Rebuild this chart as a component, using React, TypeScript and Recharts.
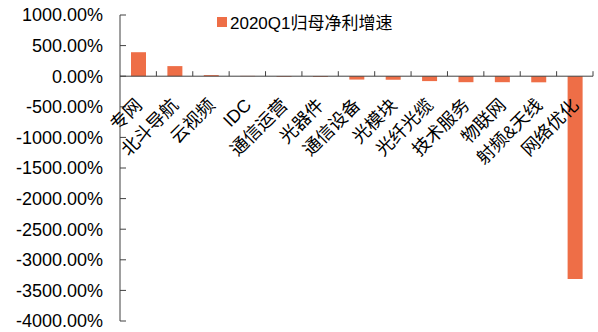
import { Bar, BarChart, ReferenceLine, XAxis, YAxis } from 'recharts'

const categories = ['专网', '北斗导航', '云视频', 'IDC', '通信运营', '光器件', '通信设备', '光模块', '光纤光缆', '技术服务', '物联网', '射频&天线', '网络优化']
const growth = [392, 165, 18, 5, -10, -12, -55, -58, -80, -98, -98, -100, -3312]
const yTicks = [1000, 500, 0, -500, -1000, -1500, -2000, -2500, -3000, -3500, -4000]
const seriesName = '2020Q1归母净利增速'

const WIDTH = 598
const HEIGHT = 332
const MARGIN = { top: 15, right: 5, bottom: 10, left: 0 }
const X_AXIS_HEIGHT = 1
const Y_AXIS_WIDTH = 120
const Y_MAX = 1000
const Y_MIN = -4000
const BAR_COLOR = '#EE6E47'
const AXIS_COLOR = '#404040'
const FONT = '"Liberation Sans", Arial, "Noto Sans CJK SC", sans-serif'

const data = categories.map((name, i) => ({ name, value: growth[i] }))

const plotW = WIDTH - MARGIN.left - MARGIN.right - Y_AXIS_WIDTH
const plotH = HEIGHT - MARGIN.top - MARGIN.bottom - X_AXIS_HEIGHT
const zeroY = MARGIN.top + (plotH * Y_MAX) / (Y_MAX - Y_MIN)
const band = plotW / categories.length

function CategoryTick(props: any) {
  const { x, payload } = props
  const half = typeof payload?.offset === 'number' && payload.offset > 0 ? payload.offset : band / 2
  const tx = x + 5
  const ty = zeroY + 30
  return (
    <g>
      <line x1={x + half} x2={x + half} y1={zeroY} y2={zeroY - 5} stroke={AXIS_COLOR} strokeWidth={1} />
      <text
        x={tx}
        y={ty}
        transform={`rotate(-45, ${tx}, ${ty})`}
        textAnchor="end"
        fontSize={18}
        fontFamily={FONT}
        fill="#000"
      >
        {payload.value}
      </text>
    </g>
  )
}

export default function App() {
  return (
    <div style={{ position: 'absolute', left: 0, top: 0, width: WIDTH, height: HEIGHT, background: '#fff' }}>
      <BarChart width={WIDTH} height={HEIGHT} data={data} margin={MARGIN}>
        <XAxis
          dataKey="name"
          height={X_AXIS_HEIGHT}
          axisLine={false}
          tickLine={false}
          interval={0}
          tick={<CategoryTick />}
        />
        <YAxis
          width={Y_AXIS_WIDTH}
          domain={[Y_MIN, Y_MAX]}
          ticks={yTicks}
          interval={0}
          tickFormatter={(v: number) => `${v.toFixed(2)}%`}
          axisLine={{ stroke: AXIS_COLOR, strokeWidth: 1 }}
          tickLine={{ stroke: AXIS_COLOR, strokeWidth: 1 }}
          tickSize={-6}
          tickMargin={23}
          tick={{ fill: '#000', fontSize: 18, fontFamily: FONT }}
        />
        <ReferenceLine y={0} stroke={AXIS_COLOR} strokeWidth={1} />
        <Bar dataKey="value" name={seriesName} fill={BAR_COLOR} barSize={15} isAnimationActive={false} />
      </BarChart>
      <div
        style={{
          position: 'absolute',
          left: 217,
          top: 9,
          display: 'flex',
          alignItems: 'center',
          fontFamily: FONT,
          fontSize: 17,
          color: '#000',
        }}
      >
        <span style={{ width: 10, height: 10, background: BAR_COLOR, marginRight: 3 }} />
        <span>{seriesName}</span>
      </div>
    </div>
  )
}
